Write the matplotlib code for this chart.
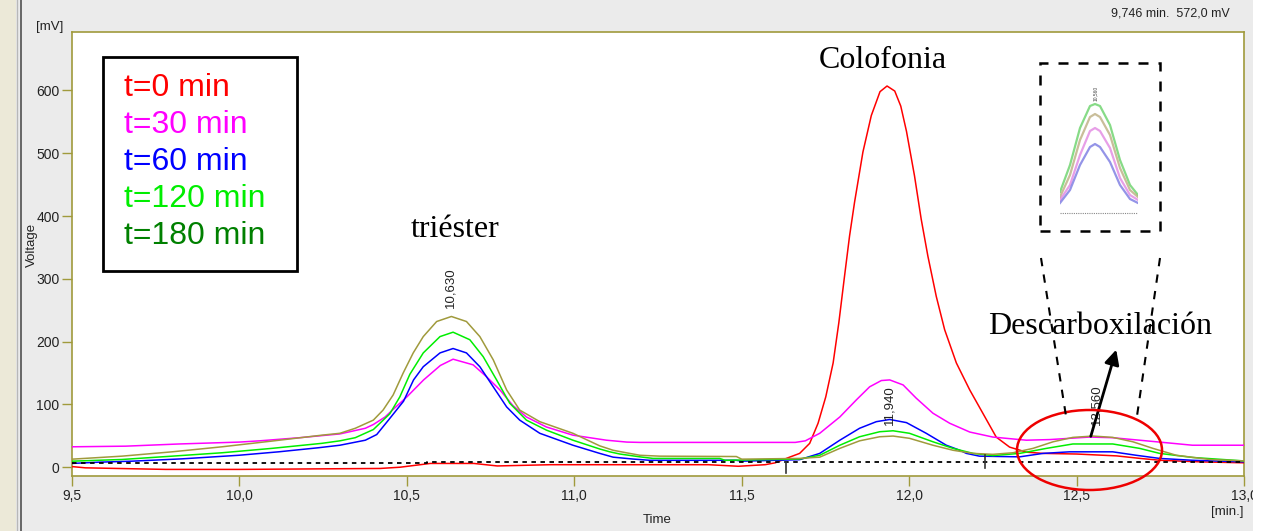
import matplotlib
matplotlib.use("Agg")
import matplotlib.pyplot as plt
from matplotlib.patches import Rectangle, Ellipse
from matplotlib.lines import Line2D

plt.rcParams['font.family'] = ['Liberation Sans', 'DejaVu Sans']

# ---------------- data ----------------
x_ticks = [9.5, 10.0, 10.5, 11.0, 11.5, 12.0, 12.5, 13.0]
x_ticklabels = ['9,5', '10,0', '10,5', '11,0', '11,5', '12,0', '12,5', '13,0']
y_ticks = [0, 100, 200, 300, 400, 500, 600]
y_ticklabels = ['0', '100', '200', '300', '400', '500', '600']

series_names = ['t=0 min', 't=30 min', 't=60 min', 't=120 min', 't=180 min']

t0_x = [9.50, 9.54, 9.78, 10.0, 10.42, 10.48, 10.57, 10.70, 10.77, 10.93, 11.2, 11.40, 11.49,
        11.57, 11.60, 11.643, 11.673, 11.703, 11.728, 11.751, 11.773, 11.790, 11.807, 11.822,
        11.837, 11.862, 11.887, 11.913, 11.934, 11.957, 11.975, 11.992, 12.016, 12.036, 12.056,
        12.081, 12.106, 12.141, 12.181, 12.220, 12.26, 12.30, 12.35, 12.40, 12.50, 12.62, 12.69,
        12.75, 12.87, 13.0]
t0_y = [1, -1, -3.5, -3.5, -2, 0, 6, 6, 2, 4, 4, 4, 1.5,
        4, 7, 16, 22, 38, 70, 112, 166, 230, 304, 368,
        422, 502, 560, 598, 607, 599, 575, 535, 464, 395, 336,
        272, 219, 166, 123, 86, 48, 32, 24, 22, 21, 18, 14,
        11, 8.5, 7]

t30_x = [9.50, 9.66, 9.82, 10.0, 10.06, 10.18, 10.30, 10.376, 10.40, 10.435, 10.465, 10.50, 10.55,
         10.60, 10.638, 10.698, 10.738, 10.778, 10.817, 10.857, 10.917, 10.996, 11.096, 11.157,
         11.196, 11.66, 11.69, 11.733, 11.793, 11.842, 11.882, 11.917, 11.942, 11.982, 12.021,
         12.071, 12.121, 12.181, 12.250, 12.35, 12.42, 12.479, 12.539, 12.607, 12.688, 12.768,
         12.846, 13.0]
t30_y = [32.5, 33.5, 37, 40, 42, 47, 53, 62, 68, 80, 95, 112, 139,
         162, 172, 163, 144, 123, 98, 80, 64, 51, 43, 40,
         39.5, 39.5, 42, 54, 80, 107, 128, 138, 139, 131, 110,
         86, 70, 56, 48, 43, 44, 46, 48, 47, 43, 39,
         35, 35]

t60_x = [9.50, 9.58, 9.679, 9.828, 9.998, 10.117, 10.236, 10.30, 10.376, 10.41, 10.445, 10.49,
         10.52, 10.549, 10.599, 10.638, 10.678, 10.718, 10.758, 10.798, 10.837, 10.897, 10.996,
         11.076, 11.116, 11.175, 11.225, 11.484, 11.50, 11.673, 11.733, 11.793, 11.852, 11.902,
         11.942, 11.992, 12.051, 12.111, 12.151, 12.171, 12.21, 12.33, 12.40, 12.479, 12.608,
         12.678, 12.748, 12.847, 13.0]
t60_y = [6, 8, 9.6, 13.3, 19, 24.5, 31, 35, 43, 52, 75, 105,
         139, 160, 182, 189, 182, 160, 128, 96, 75, 54, 35,
         22, 16, 13, 11, 11, 9.6, 12, 22, 43, 62, 72.5,
         76, 71, 54, 35, 27, 22, 17.6, 16.5, 22, 24.5, 24.5,
         19, 14, 11, 8.5]

t120_x = [9.50, 9.649, 9.799, 9.948, 10.097, 10.246, 10.30, 10.346, 10.40, 10.449, 10.479, 10.509,
          10.549, 10.599, 10.638, 10.688, 10.728, 10.768, 10.807, 10.857, 10.917, 10.996, 11.076,
          11.106, 11.136, 11.196, 11.235, 11.434, 11.45, 11.673, 11.733, 11.793, 11.852, 11.912,
          11.952, 12.001, 12.071, 12.131, 12.191, 12.250, 12.33, 12.41, 12.489, 12.608, 12.688,
          12.748, 12.847, 13.0]
t120_y = [9.6, 12.3, 17.6, 23, 30, 38, 42, 47, 60, 85, 112, 148,
          182, 208, 215, 203, 176, 139, 102, 75, 59, 43, 29,
          24.5, 21, 16.5, 14, 14, 11, 13, 19, 35, 48.5, 56.5,
          58, 54, 40.5, 30, 22, 18.5, 22, 30, 37, 37, 30,
          22, 15.5, 10]

t180_x = [9.50, 9.649, 9.799, 9.948, 10.097, 10.246, 10.30, 10.346, 10.40, 10.429, 10.459, 10.489,
          10.519, 10.549, 10.589, 10.633, 10.678, 10.718, 10.758, 10.798, 10.837, 10.897, 10.996,
          11.076, 11.116, 11.155, 11.196, 11.255, 11.484, 11.50, 11.673, 11.733, 11.793, 11.852,
          11.912, 11.952, 12.001, 12.071, 12.131, 12.191, 12.250, 12.31, 12.37, 12.43, 12.489,
          12.549, 12.608, 12.668, 12.728, 12.798, 12.897, 13.0]
t180_y = [12.8, 17.6, 24.5, 32.5, 41.6, 51, 54, 62, 75, 91, 115, 150,
          182, 208, 232, 240, 232, 208, 171, 123, 91, 72.5, 54,
          34, 27, 23, 19, 17.6, 17, 12.8, 14, 16, 30, 42,
          48.5, 49.6, 46, 35, 27, 22, 20.5, 23, 30, 40.5, 47.5,
          49.6, 47.5, 40.5, 30, 19, 12.3, 10]

baseline_x = [9.5, 10.56, 10.56, 13.0]
baseline_y = [6, 6, 8.5, 8.5]

mark_x = [11.632, 12.228]
mark_top = [9, 20]
mark_bottom = [-10, -2]

peak_labels = ['10,630', '11,940', '12,560']
peak_label_x = [10.63, 11.94, 12.56]
peak_label_y = [254, 67, 67]

# inset (zoom of the decarboxylation peak)
inset_x = [12.40, 12.45, 12.50, 12.55, 12.575, 12.60, 12.65, 12.70, 12.75, 12.79]
inset_green = [21, 48, 85, 107, 109, 107, 88, 53, 28, 18]
inset_olive = [16, 38, 73, 96, 99, 96, 78, 45, 23, 16]
inset_pink = [13, 28, 58, 82, 85, 82, 65, 35, 18, 13]
inset_blue = [10, 23, 48, 66, 69, 66, 51, 28, 14, 10]

# ---------------- figure ----------------
W, H = 1268, 531
fig = plt.figure(figsize=(W / 100, H / 100), dpi=100, facecolor='#EBEBEB')


def fx(px):
    return px / W


def fy(py):
    return 1 - py / H


olive = '#A09A3C'
colors = ['#FF0000', '#FF00FF', '#0000FF', '#00EE00', olive]
legend_colors = ['#FF0000', '#FF00FF', '#0000FF', '#00EE00', '#008000']

# window decorations
fig.add_artist(Rectangle((0, 0), fx(16), 1, transform=fig.transFigure, fc='#ECE9D8', ec='none', zorder=-5))
fig.add_artist(Line2D([fx(17), fx(17)], [0, 1], transform=fig.transFigure, color='#B8B8B8', lw=1, zorder=-4))
fig.add_artist(Line2D([fx(20.5), fx(20.5)], [0, 1], transform=fig.transFigure, color='#505050', lw=1.2, zorder=-4))

ax = fig.add_axes([fx(72), fy(476), fx(1244) - fx(72), fy(32) - fy(476)])
ax.set_facecolor('white')
ax.set_xlim(9.5, 13.0)
ax.set_ylim(-14, 693)

all_x = [t0_x, t30_x, t60_x, t120_x, t180_x]
all_y = [t0_y, t30_y, t60_y, t120_y, t180_y]
for xs, ys, c in zip(all_x, all_y, colors):
    ax.plot(xs, ys, color=c, lw=1.1, zorder=3)

ax.plot(baseline_x, baseline_y, color='black', lw=1.3, ls=(0, (2.5, 2.5)), zorder=4)
for mx, mt, mb in zip(mark_x, mark_top, mark_bottom):
    ax.plot([mx, mx], [mb, mt], color='#333333', lw=1.2, zorder=4)

for lab, px_, py_ in zip(peak_labels, peak_label_x, peak_label_y):
    ax.text(px_, py_, lab, rotation=90, ha='center', va='bottom', fontsize=9.5,
            color='#222222', zorder=5)

for s in ax.spines.values():
    s.set_color(olive)
    s.set_linewidth(1.2)
ax.set_xticks(x_ticks)
ax.set_xticklabels(x_ticklabels)
ax.set_yticks(y_ticks)
ax.set_yticklabels(y_ticklabels)
ax.tick_params(direction='out', length=7, width=1, color=olive, labelsize=10,
               labelcolor='#222222', pad=2)

# legend box
fig.add_artist(Rectangle((fx(103), fy(271)), fx(297) - fx(103), fy(57) - fy(271),
                         transform=fig.transFigure, fc='white', ec='black', lw=2, zorder=5))
leg_y = [88, 125, 162, 199, 236]
for name, c, yy in zip(series_names, legend_colors, leg_y):
    fig.text(fx(124), fy(yy), name, color=c, fontsize=23, ha='left', va='center', zorder=6)

# annotations
serif = ['Liberation Serif', 'DejaVu Serif']
fig.text(fx(455), fy(229), 'triéster', family=serif, fontsize=23, ha='center', va='center')
fig.text(fx(883), fy(60), 'Colofonia', family=serif, fontsize=23, ha='center', va='center')
fig.text(fx(1100), fy(327), 'Descarboxilación', family=serif, fontsize=23, ha='center', va='center')

# axis texts
fig.text(fx(50), fy(27), '[mV]', fontsize=9.5, ha='center', va='center', color='#222222')
fig.text(fx(32), fy(245), 'Voltage', fontsize=9.5, rotation=90, ha='center', va='center', color='#222222')
fig.text(fx(657), fy(520), 'Time', fontsize=9.5, ha='center', va='center', color='#222222')
fig.text(fx(1227), fy(512), '[min.]', fontsize=9.5, ha='center', va='center', color='#222222')
fig.text(fx(1230), fy(14), '9,746 min.  572,0 mV', fontsize=9, ha='right', va='center', color='#222222')

# ellipse and arrow
fig.add_artist(Ellipse((fx(1089.5), fy(450)), 145 / W, 80 / H, transform=fig.transFigure,
                       fill=False, ec='#EE0000', lw=1.8, zorder=7))
ax.annotate('', xy=(fx(1117), fy(347)), xytext=(fx(1090), fy(439)),
            xycoords='figure fraction', textcoords='figure fraction',
            arrowprops=dict(arrowstyle='-|>', lw=2, color='black', mutation_scale=22),
            annotation_clip=False, zorder=8)

# dashed connectors and inset frame
for (x1, y1, x2, y2) in [(1041, 258, 1066, 416), (1160, 258, 1137, 416)]:
    fig.add_artist(Line2D([fx(x1), fx(x2)], [fy(y1), fy(y2)], transform=fig.transFigure,
                          color='black', lw=1.5, ls=(0, (4, 4)), zorder=7))
fig.add_artist(Rectangle((fx(1040), fy(231)), fx(1160) - fx(1040), fy(63) - fy(231),
                         transform=fig.transFigure, fill=False, ec='black', lw=1.8,
                         ls=(0, (4, 4)), zorder=7))

iax = fig.add_axes([fx(1060), fy(220), fx(1138) - fx(1060), fy(73) - fy(220)])
iax.set_facecolor('#FBFBFB')
iax.set_xlim(12.40, 12.79)
iax.set_ylim(-7, 140)
iax.axis('off')
for ys, c in zip([inset_green, inset_olive, inset_pink, inset_blue],
                 ['#5FCF5F', '#B8A878', '#E07FE0', '#7070E0']):
    iax.plot(inset_x, ys, color=c, lw=1.6, alpha=0.75)
iax.plot([12.40, 12.79], [0, 0], color='#888888', lw=0.8, ls=(0, (1, 1)))
iax.text(12.575, 112, '10,560', rotation=90, fontsize=3.5, ha='center', va='bottom', color='#444444')

# right white strip (window edge)
fig.add_artist(Rectangle((fx(1253), 0), 1 - fx(1253), 1, transform=fig.transFigure,
                         fc='white', ec='none', zorder=20))

fig.savefig('out.png', dpi=100, facecolor=fig.get_facecolor())
